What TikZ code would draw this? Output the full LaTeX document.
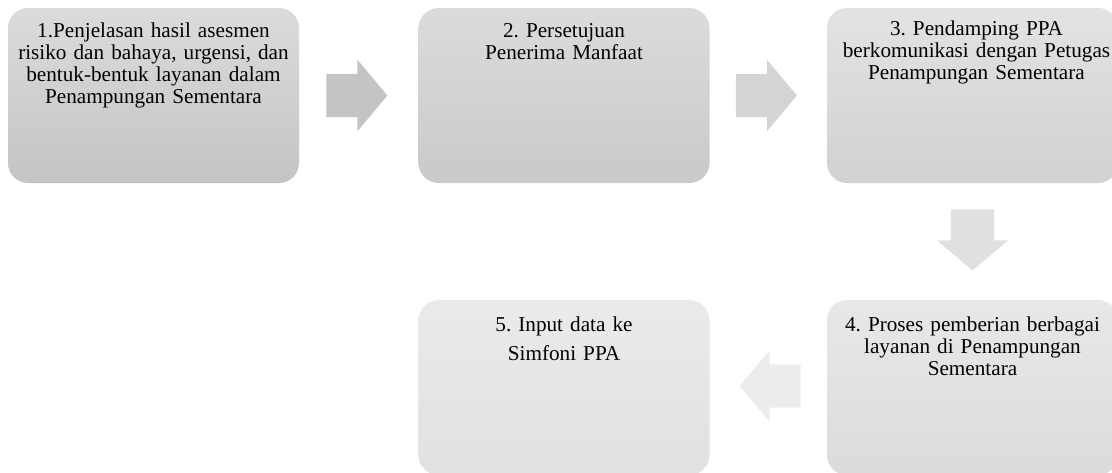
\documentclass[tikz,border=0pt]{standalone}
\usepackage{fontspec}
\setmainfont{Liberation Serif}
\frenchspacing
\usetikzlibrary{shapes.arrows,calc}
\definecolor{boxatop}{gray}{0.86}
\definecolor{boxabot}{gray}{0.77}
\definecolor{boxbtop}{gray}{0.86}
\definecolor{boxbbot}{gray}{0.79}
\definecolor{boxctop}{gray}{0.89}
\definecolor{boxcbot}{gray}{0.82}
\definecolor{boxdtop}{gray}{0.91}
\definecolor{boxdbot}{gray}{0.86}
\definecolor{boxetop}{gray}{0.92}
\definecolor{boxebot}{gray}{0.88}
\definecolor{arra}{gray}{0.77}
\definecolor{arrb}{gray}{0.83}
\definecolor{arrc}{gray}{0.88}
\definecolor{arrd}{gray}{0.925}
\begin{document}
\begin{tikzpicture}[x=1pt,y=-1pt,
  stepbox/.style={rounded corners=20pt,minimum width=291pt,minimum height=175pt,inner sep=0pt},
  steptext/.style={anchor=base,text width=286pt,align=center,inner sep=0pt,
    font=\fontsize{21.2}{22}\selectfont},
  blockarrow/.style={single arrow,anchor=tail,inner xsep=0pt,inner ysep=21.5pt,minimum height=61pt,
    single arrow head extend=14pt,single arrow tip angle=100}]
\clip (0,0) rectangle (1112,472);
\node [stepbox,top color=boxatop,bottom color=boxabot] (b1) at (153.5,95.5) {};
\node [stepbox,top color=boxbtop,bottom color=boxbbot] (b2) at (564,95.5) {};
\node [stepbox,top color=boxctop,bottom color=boxcbot] (b3) at (972.5,95.5) {};
\node [stepbox,top color=boxdtop,bottom color=boxdbot] (b4) at (972.5,387.5) {};
\node [stepbox,top color=boxetop,bottom color=boxebot] (b5) at (564,387.5) {};
\node [steptext] (t1) at ([yshift=-29.3pt]b1.north) {1.Penjelasan hasil asesmen\\ risiko dan bahaya, urgensi, dan\\ bentuk-bentuk layanan dalam\\ Penampungan Sementara};
\node [steptext] (t2) at ([yshift=-29.5pt]b2.north) {2. Persetujuan\\ Penerima Manfaat};
\node [steptext] (t3) at ([xshift=4pt,yshift=-27.5pt]b3.north) {3. Pendamping PPA\\ berkomunikasi dengan Petugas\\ Penampungan Sementara};
\node [steptext] (t4) at ([yshift=-31.7pt]b4.north) {4. Proses pemberian berbagai\\ layanan di Penampungan\\ Sementara};
\node [steptext,font=\fontsize{21.2}{29}\selectfont] (t5) at ([yshift=-31.7pt]b5.north) {5. Input data ke\\ Simfoni PPA};
\node [blockarrow,fill=arra] (a1) at ([xshift=27pt]b1.east) {};
\node [blockarrow,fill=arrb] (a2) at ([xshift=26pt]b2.east) {};
\node [blockarrow,fill=arrc,rotate=-90] (a3) at ([yshift=-26pt]b3.south) {};
\node [blockarrow,fill=arrd,rotate=180] (a4) at ([xshift=-26pt,yshift=1.5pt]b4.west) {};
\end{tikzpicture}
\end{document}
